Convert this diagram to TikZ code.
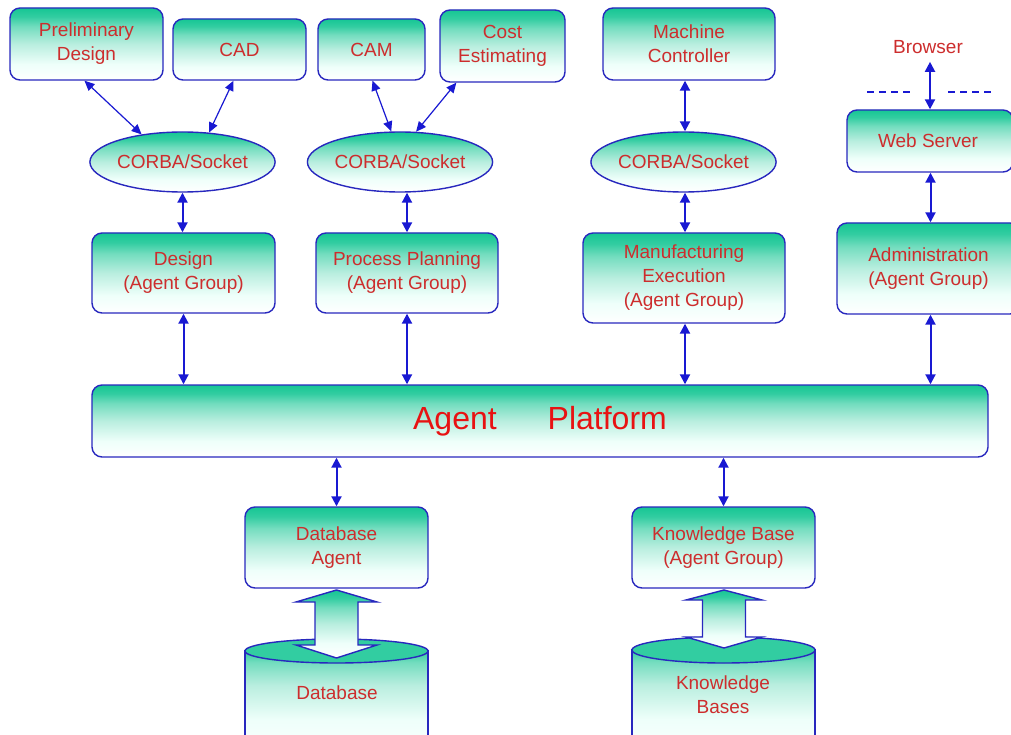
\documentclass[tikz,border=0pt]{standalone}
\usepackage{fontspec}
\setmainfont{Liberation Sans}
\usetikzlibrary{shapes.geometric,arrows.meta,calc}
\definecolor{tealtop}{RGB}{22,198,148}
\definecolor{bord}{RGB}{40,40,190}
\definecolor{arrc}{RGB}{25,25,210}
\definecolor{txtred}{RGB}{205,45,45}
\definecolor{bigred}{RGB}{232,18,18}
\definecolor{palec}{RGB}{238,255,250}
\colorlet{tealA}{tealtop!30!white}
\colorlet{tealB}{tealtop!60!white}
\colorlet{tealC}{tealtop!88!white}
\pgfdeclareverticalshading{boxsh}{100bp}{color(0bp)=(white); color(25bp)=(white); color(36bp)=(palec); color(50bp)=(tealA); color(62bp)=(tealB); color(69bp)=(tealC); color(75bp)=(tealtop); color(100bp)=(tealtop)}
\pgfdeclareverticalshading{cylsh}{100bp}{color(0bp)=(white); color(25bp)=(white); color(45bp)=(palec); color(60bp)=(tealA); color(70bp)=(tealB); color(75bp)=(tealC); color(100bp)=(tealC)}
\tikzset{
  box/.style={draw=bord, line width=1.4pt, rounded corners=10pt, shade, shading=boxsh,
    inner sep=0pt, align=center, text=txtred, font=\fontsize{19}{24}\selectfont},
  ell/.style={ellipse, draw=bord, line width=1.4pt, shade, shading=boxsh,
    inner sep=0pt, text=txtred, font=\fontsize{19}{24}\selectfont},
  lbl/.style={inner sep=0pt, align=center, text=txtred, font=\fontsize{19}{24}\selectfont},
  shapeline/.style={draw=bord, line width=1.4pt},
  arr/.style={arrc, line width=2pt, {Triangle[length=10pt,width=10pt]}-{Triangle[length=10pt,width=10pt]}},
  arrthin/.style={arrc, line width=1.2pt, {Triangle[length=10pt,width=9pt]}-{Triangle[length=10pt,width=9pt]}},
  dashln/.style={arrc, line width=1.5pt, dash pattern=on 7pt off 5pt},
}
\begin{document}
\begin{tikzpicture}[x=1pt,y=-1pt]
\useasboundingbox (0,0) rectangle (1011,735);
\fill[white] (0,0) rectangle (1011,735);

% top row
\node[box, minimum width=153pt, minimum height=72pt] (prelim) at (86.5,44) {Preliminary\\Design};
\node[box, minimum width=133pt, minimum height=61pt] (cad) at (239.5,49.5) {CAD};
\node[box, minimum width=107pt, minimum height=61pt] (cam) at (371.5,49.5) {CAM};
\node[box, minimum width=125pt, minimum height=72pt] (cost) at (502.5,46) {Cost\\Estimating};
\node[box, minimum width=172pt, minimum height=72pt] (mach) at (689,44) {Machine\\Controller};
\node[lbl] (browser) at (928,47) {Browser};
\node[box, minimum width=166pt, minimum height=62pt] (web) at (930,141) {};
\node[lbl] at (928,141) {Web Server};

% ellipses
\node[ell, minimum width=159pt, minimum height=60pt] (e1) at (182.5,162) {CORBA/Socket};
\node[ell, minimum width=155pt, minimum height=60pt] (e2) at (400,162) {CORBA/Socket};
\node[ell, minimum width=167pt, minimum height=60pt] (e3) at (683.5,162) {CORBA/Socket};

% agent groups
\node[box, minimum width=183pt, minimum height=80pt] (design) at (183.5,273) {Design\\(Agent Group)};
\node[box, minimum width=182pt, minimum height=80pt] (proc) at (407,273) {Process Planning\\(Agent Group)};
\node[box, minimum width=202pt, minimum height=90pt] (manuf) at (684,278) {Manufacturing\\Execution\\(Agent Group)};
\node[box, minimum width=183pt, minimum height=91pt] (admin) at (928.5,268.5) {Administration\\(Agent Group)};

% platform
\node[box, minimum width=896pt, minimum height=72pt, text=bigred, font=\fontsize{32}{36}\selectfont] (platform) at (540,421) {Agent\hspace{51pt}Platform};

% lower agents
\node[box, minimum width=183pt, minimum height=81pt] (dba) at (336.5,547.5) {Database\\Agent};
\node[box, minimum width=183pt, minimum height=81pt] (kb) at (723.5,547.5) {Knowledge Base\\(Agent Group)};

% cylinders
\shade[shading=cylsh, shapeline] (245,651) -- (245,765) -- (428,765) -- (428,651) -- cycle;
\filldraw[fill=tealC, shapeline] (336.5,651) ellipse [x radius=91.5, y radius=12];
\node[lbl] (db) at (337,693) {Database};
\shade[shading=cylsh, shapeline] (632,650) -- (632,765) -- (815,765) -- (815,650) -- cycle;
\filldraw[fill=tealC, shapeline] (723.5,650) ellipse [x radius=91.5, y radius=13];
\node[lbl] (kbs) at (723,695) {Knowledge\\Bases};

% block arrows
\shade[shading=boxsh, shapeline] (336.5,590) -- (377,602) -- (358,602) -- (358,645) -- (377,645)
  -- (336.5,658) -- (296,645) -- (315,645) -- (315,602) -- (296,602) -- cycle;
\shade[shading=boxsh, shapeline] (724,590) -- (762,600) -- (745.5,600) -- (745.5,637) -- (762,637)
  -- (724,648) -- (686,637) -- (702.5,637) -- (702.5,600) -- (686,600) -- cycle;

% connectors, top
\draw[arrthin] ([xshift=-2pt]prelim.south) -- (e1.146);
\draw[arrthin] ([xshift=-6pt]cad.south) -- (e1.48);
\draw[arrthin] ([xshift=1pt]cam.south) -- (e2.106);
\draw[arrthin] ([xshift=17pt]cost.south west) -- (e2.62);
\draw[arr] ([xshift=-4pt]mach.south) -- ([xshift=-4pt]mach.south |- e3.north);
\draw[arr] ([xshift=2pt,yshift=-8pt]browser.south) -- ([xshift=2pt]web.north -| browser);
\draw[dashln] (867,92) -- (910,92);
\draw[dashln] (948,92) -- (991,92);

% ellipse to agent groups
\draw[arr] (e1.south) -- (e1.south |- design.north);
\draw[arr] (proc.north) -- (proc.north |- e2.south);
\draw[arr] ([xshift=1pt]manuf.north |- e3.south) -- ([xshift=1pt]manuf.north);
\draw[arr] ([xshift=2pt]web.south -| admin) -- ([xshift=2pt]admin.north);

% agent groups to platform
\draw[arr] (design.south) -- (design.south |- platform.north);
\draw[arr] (proc.south) -- (proc.south |- platform.north);
\draw[arr] ([xshift=1pt]manuf.south) -- ([xshift=1pt]manuf.south |- platform.north);
\draw[arr] ([xshift=2pt]admin.south) -- ([xshift=2pt]admin.south |- platform.north);

% platform to lower agents
\draw[arr] (dba.north |- platform.south) -- (dba.north);
\draw[arr] (kb.north |- platform.south) -- (kb.north);
\end{tikzpicture}
\end{document}
